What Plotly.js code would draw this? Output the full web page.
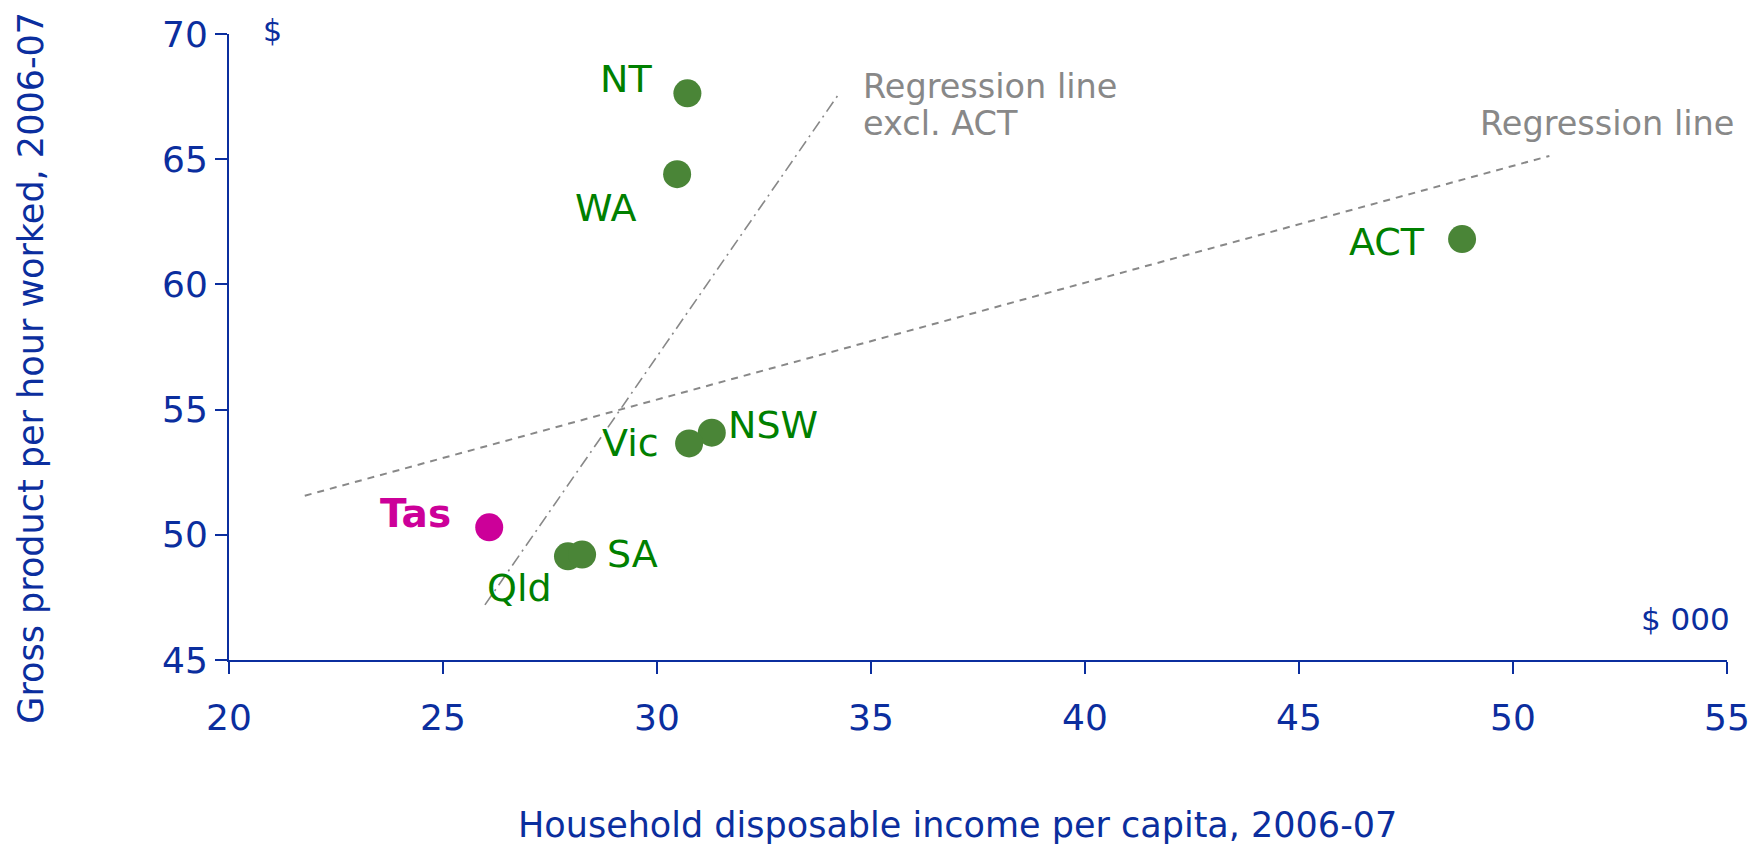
<!DOCTYPE html>
<html><head><meta charset="utf-8">
<script src="https://cdn.plot.ly/plotly-3.0.1.min.js"></script>
<style>html,body{margin:0;padding:0;background:#fff;}#chart{width:1751px;height:846px;}</style>
</head><body><div id="chart"></div>
<script>
// ---- Data ----
const states = ["NT", "WA", "ACT", "NSW", "Vic", "Tas", "Qld", "SA"];
const incomePerCapita = [30.71, 30.47, 48.81, 31.28, 30.75, 26.08, 27.92, 28.25];   // $ 000
const productPerHour = [67.63, 64.40, 61.81, 54.08, 53.65, 50.30, 49.14, 49.21];    // $
const regAllX = [21.77, 50.85];
const regAllY = [51.56, 65.13];
const regExclX = [25.98, 34.27];
const regExclY = [47.20, 67.66];
const xTicks = [20, 25, 30, 35, 40, 45, 50, 55];
const yTicks = [45, 50, 55, 60, 65, 70];
const xTitle = "Household disposable income per capita, 2006-07";
const yTitle = "Gross product per hour worked, 2006-07";

// ---- Styles ----
const BLUE = "#0b2e9e";
const GREEN_TXT = "#008000";
const GREEN_MK = "#4a8537";
const MAGENTA = "#cc0099";
const GREY = "#888888";
const FONT = "DejaVu Sans, Verdana, sans-serif";
const labelPos = {
  NT:  {xanchor: "right", xshift: -33.6, yshift: 14},
  WA:  {xanchor: "right", xshift: -38.6, yshift: -34},
  ACT: {xanchor: "right", xshift: -35,   yshift: -3},
  NSW: {xanchor: "left",  xshift: 14.5,  yshift: 8},
  Vic: {xanchor: "right", xshift: -28.5, yshift: 0},
  Tas: {xanchor: "right", xshift: -36,   yshift: 14},
  Qld: {xanchor: "right", xshift: -13.5, yshift: -32},
  SA:  {xanchor: "left",  xshift: 23,    yshift: 1}
};

const traces = [
  {x: regAllX, y: regAllY, mode: "lines", type: "scatter", hoverinfo: "skip",
   line: {color: GREY, width: 2, dash: "7px,6px"}},
  {x: regExclX, y: regExclY, mode: "lines", type: "scatter", hoverinfo: "skip",
   line: {color: GREY, width: 1.6, dash: "12px,5px,2px,5px"}},
  {x: incomePerCapita, y: productPerHour, text: states, mode: "markers", type: "scatter",
   marker: {size: 28, color: states.map(s => s === "Tas" ? MAGENTA : GREEN_MK), line: {width: 0}}}
];

const annotations = states.map((s, i) => Object.assign({
  x: incomePerCapita[i], y: productPerHour[i], xref: "x", yref: "y",
  text: s === "Tas" ? "<b>" + s + "</b>" : s, showarrow: false, yanchor: "middle",
  font: {family: FONT, size: s === "Tas" ? 39 : 38, color: s === "Tas" ? MAGENTA : GREEN_TXT}
}, labelPos[s]));

annotations.push(
  {x: regExclX[1], y: regExclY[1], xref: "x", yref: "y", text: "Regression line", showarrow: false,
   xanchor: "left", yanchor: "middle", xshift: 21, yshift: 6, font: {family: FONT, size: 33.5, color: GREY}},
  {x: regExclX[1], y: regExclY[1], xref: "x", yref: "y", text: "excl. ACT", showarrow: false,
   xanchor: "left", yanchor: "middle", xshift: 21, yshift: -31, font: {family: FONT, size: 33.5, color: GREY}},
  {x: regAllX[1], y: regAllY[1], xref: "x", yref: "y", text: "Regression line", showarrow: false,
   xanchor: "left", yanchor: "middle", xshift: -71.5, yshift: 32, font: {family: FONT, size: 33.5, color: GREY}},
  {x: 0.0215, y: 1.006, xref: "paper", yref: "paper", text: "$", showarrow: false,
   xanchor: "left", yanchor: "middle", font: {family: FONT, size: 30, color: BLUE}},
  {x: 1, y: 0.0655, xref: "paper", yref: "paper", text: "$ 000", showarrow: false,
   xanchor: "right", yanchor: "middle", xshift: 5, font: {family: FONT, size: 31, color: BLUE}},
  // axis titles
  {x: 0.4866, y: -0.263, xref: "paper", yref: "paper", text: xTitle, showarrow: false,
   xanchor: "center", yanchor: "middle", font: {family: FONT, size: 35, color: BLUE}},
  {x: -0.1324, y: 0.4665, xref: "paper", yref: "paper", text: yTitle, showarrow: false, textangle: -90,
   xanchor: "center", yanchor: "middle", font: {family: FONT, size: 35, color: BLUE}}
);

const axisCommon = {
  showgrid: false, zeroline: false, showline: true, linecolor: BLUE, linewidth: 2,
  ticks: "outside", ticklen: 12, tickwidth: 2, tickcolor: BLUE,
  tickfont: {family: FONT, size: 36, color: BLUE}, automargin: false
};

const layout = {
  width: 1751, height: 846,
  margin: {l: 229, r: 24, t: 34, b: 186},
  paper_bgcolor: "#ffffff", plot_bgcolor: "#ffffff",
  showlegend: false,
  xaxis: Object.assign({}, axisCommon, {
    range: [20, 55], tickvals: xTicks, ticktext: xTicks.map(String), ticklabelstandoff: 13
  }),
  yaxis: Object.assign({}, axisCommon, {
    range: [45, 70], tickvals: yTicks, ticktext: yTicks.map(String), ticklabelstandoff: 9.5
  }),
  annotations: annotations
};

Plotly.newPlot("chart", traces, layout, {displayModeBar: false, staticPlot: true});
</script>
</body></html>
